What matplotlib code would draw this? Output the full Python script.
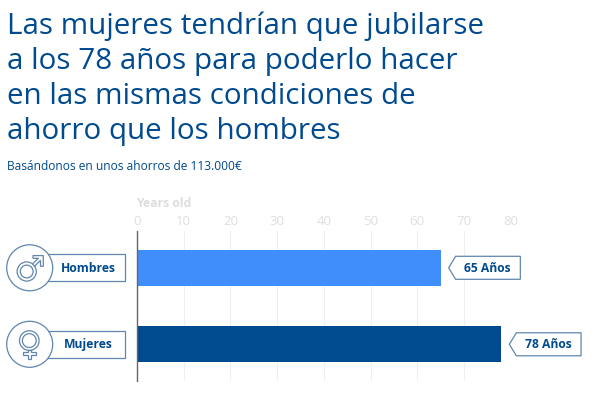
import matplotlib
matplotlib.use("Agg")
import matplotlib.pyplot as plt
from matplotlib.patches import Circle, Polygon, Rectangle

plt.rcParams['font.family'] = ['Open Sans', 'DejaVu Sans']

categories = ["Hombres", "Mujeres"]
values = [65, 78]
value_labels = ["65 Años", "78 Años"]
bar_colors = ["#3F8EFC", "#004A8F"]
xticks = [0, 10, 20, 30, 40, 50, 60, 70, 80]
title_lines = ["Las mujeres tendrían que jubilarse",
               "a los 78 años para poderlo hacer",
               "en las mismas condiciones de",
               "ahorro que los hombres"]
subtitle = "Basándonos en unos ahorros de 113.000€"
axis_title = "Years old"

NAVY = "#004A8F"
EDGE = "#5F86AE"
W, H = 600, 394
fig = plt.figure(figsize=(6, 3.94), dpi=100, facecolor="white")

ax = fig.add_axes([137/W, 1-381/H, (510.7-137)/W, 150.3/H])
ax.set_xlim(0, 80)
ax.set_ylim(1.48, -0.485)
ax.barh(range(len(values)), values, height=0.47, color=bar_colors, zorder=3)
ax.set_xticks(xticks)
ax.set_xticklabels(xticks, fontsize=9.5, color="#DFDFDF")
ax.xaxis.tick_top()
ax.tick_params(axis='x', length=0, pad=2)
ax.set_yticks([])
ax.grid(axis='x', color="#EEEFF1", lw=0.8, zorder=0)
for s in ["top", "right", "bottom"]:
    ax.spines[s].set_visible(False)
ax.spines["left"].set_color("#666666")
ax.spines["left"].set_linewidth(1)
ax.spines["left"].set_zorder(5)

# overlay in pixel coordinates for the annotations
ov = fig.add_axes([0, 0, 1, 1], facecolor="none")
ov.set_xlim(0, W)
ov.set_ylim(H, 0)
ov.axis("off")

for line, y in zip(title_lines, [33.5, 68.5, 103.5, 138.5]):
    ov.text(7, y, line, fontsize=21.33, color=NAVY, va="baseline", ha="left")
ov.text(7, 170, subtitle, fontsize=8.65, color=NAVY, va="baseline", ha="left")
ov.text(136.5, 203.5, axis_title, fontsize=8.8, color="#DDDDDD", weight="bold", va="center", ha="left")

def to_px(x, y):
    px = ax.transData.transform((x, y))
    return ov.transData.inverted().transform(px)

for i, (cat, val, lab) in enumerate(zip(categories, values, value_labels)):
    px, py = to_px(val, i)
    # value callout
    x0 = px + 15
    x1 = x0 + 64.7
    pts = [(px + 8, py), (x0, py - 11.5), (x1, py - 11.5), (x1, py + 11.5), (x0, py + 11.5)]
    ov.add_patch(Polygon(pts, closed=True, fc="white", ec=EDGE, lw=0.9, zorder=6))
    ov.text((x0 + x1) / 2 - 0.8, py + 0.4, lab, fontsize=8.7, weight="bold", color=NAVY,
            va="center", ha="center", zorder=7)
    # category label box
    ov.add_patch(Rectangle((40, py - 13.7), 84.5, 27.4, fc="white", ec=EDGE, lw=0.9, zorder=6))
    ov.text(88.5, py + 0.4, cat, fontsize=8.7, weight="bold", color=NAVY,
            va="center", ha="center", zorder=7)
    # icon circle
    ov.add_patch(Circle((29.7, py), 23, fc="white", ec=EDGE, lw=0.9, zorder=8))

# male symbol
cy = to_px(0, 0)[1]
ov.add_patch(Circle((26.7, cy + 3.7), 9.6, fc="none", ec=EDGE, lw=0.9, zorder=9))
ov.add_patch(Circle((26.7, cy + 3.7), 6.4, fc="none", ec=EDGE, lw=0.9, zorder=9))
arrow = [(32.5, cy - 4), (38.5, cy - 9.5), (33, cy - 9.5), (33, cy - 12.2), (43.3, cy - 12.2),
         (43.3, cy - 1.5), (40.5, cy - 1.5), (40.5, cy - 7.5), (34.5, cy - 1.5)]
ov.add_patch(Polygon(arrow, closed=True, fc="white", ec=EDGE, lw=0.9, zorder=9))

# female symbol
cy = to_px(0, 1)[1]
ov.add_patch(Circle((29.3, cy - 3.7), 9.8, fc="none", ec=EDGE, lw=0.9, zorder=9))
ov.add_patch(Circle((29.3, cy - 3.7), 6.9, fc="none", ec=EDGE, lw=0.9, zorder=9))
cross = [(27.6, cy + 6), (31, cy + 6), (31, cy + 7.5), (35.8, cy + 7.5), (35.8, cy + 10.7), (31, cy + 10.7),
         (31, cy + 14.5), (27.6, cy + 14.5), (27.6, cy + 10.7), (22.8, cy + 10.7), (22.8, cy + 7.5), (27.6, cy + 7.5)]
ov.add_patch(Polygon(cross, closed=True, fc="white", ec=EDGE, lw=0.9, zorder=9))

fig.savefig("out.png", dpi=100)
